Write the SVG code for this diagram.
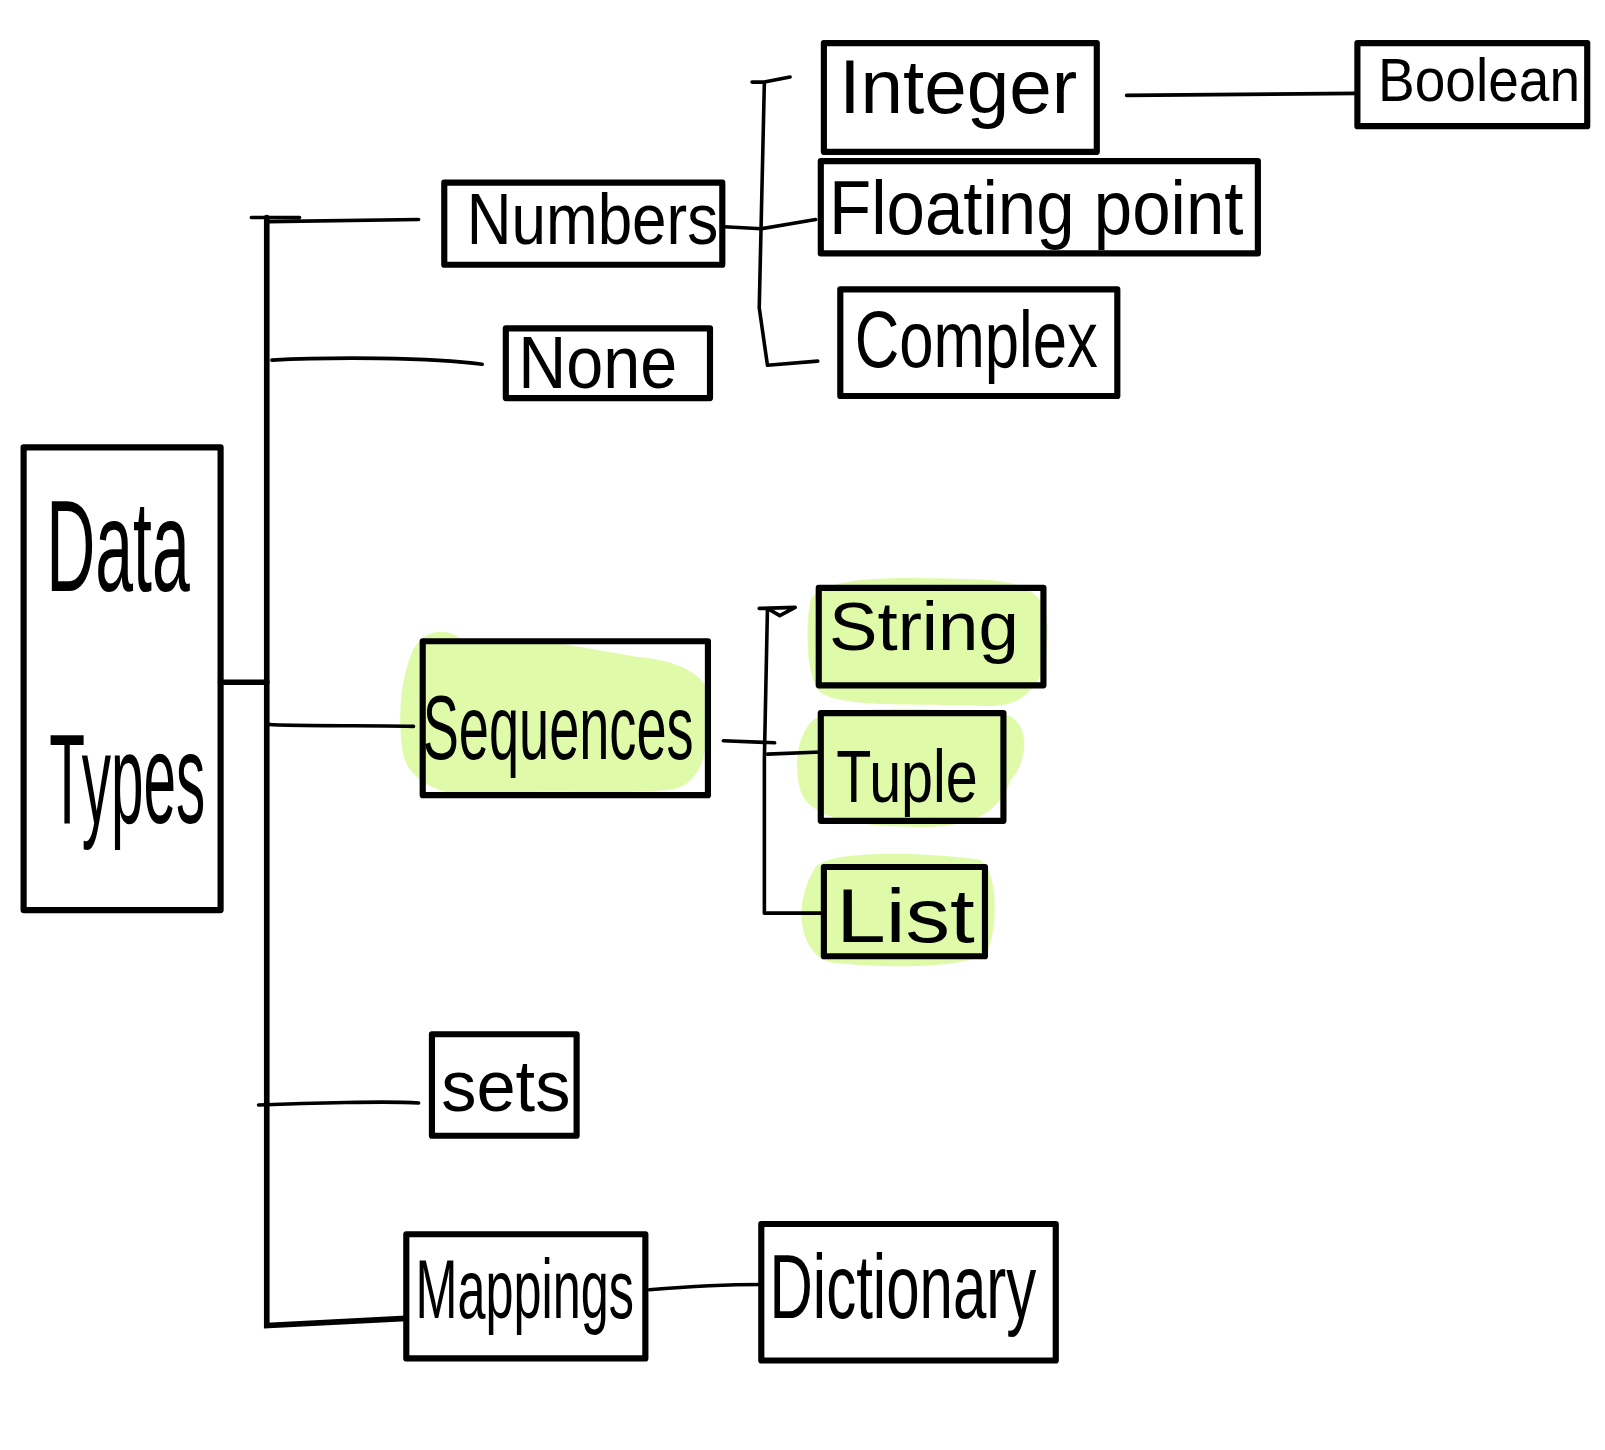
<svg xmlns="http://www.w3.org/2000/svg" width="1605" height="1450" viewBox="0 0 1605 1450">
<style>
.box{fill:none;stroke:#000;stroke-width:6;stroke-linejoin:round}
.hl{fill:#dffba9;stroke:none}
.ln{fill:none;stroke:#000;stroke-width:3.5;stroke-linecap:round;stroke-linejoin:round}
.lt{fill:none;stroke:#000;stroke-width:5.5;stroke-linecap:round}
.t{font-family:"Liberation Sans","DejaVu Sans",sans-serif;fill:#000}
</style>
<rect width="1605" height="1450" fill="#fff"/>
<g transform="scale(1.026)">
<g id="highlights">
<path class="hl" d="M400,640 C410,610 440,610 455,628 C500,615 560,630 620,640 C680,645 700,670 690,700 C690,740 680,768 650,770 C600,775 520,768 470,775 C430,778 395,760 392,730 C388,700 390,665 400,640 Z"/>
<path class="hl" d="M790,585 C800,560 880,562 960,565 C1015,568 1025,590 1020,630 C1018,665 1000,690 960,688 C900,686 820,690 800,675 C785,660 785,610 790,585 Z"/>
<path class="hl" d="M795,700 C820,688 920,688 985,698 C1005,710 1000,745 985,760 C975,790 950,806 900,806 C840,806 790,800 780,770 C772,740 780,710 795,700 Z"/>
<path class="hl" d="M795,845 C810,828 900,830 955,838 C975,850 972,915 960,930 C930,945 860,943 810,938 C778,930 772,880 795,845 Z"/>
</g>
<g id="connectors">
<path class="lt" d="M260,212 L260,1292 L396,1285"/>
<path class="lt" d="M215,665 L260,665"/>
<path class="ln" d="M245,212 L292,212 M262,216 L408,214"/>
<path class="ln" d="M265,351 C320,348 420,348 470,355"/>
<path class="ln" d="M262,706 C270,708 380,707 403,708"/>
<path class="ln" d="M252,1077 C300,1075 380,1073 408,1075"/>
<path class="ln" d="M733,80 L745,80 L770,75 M745,80 L740,300 L748,356 L797,352"/>
<path class="ln" d="M706,221 L742,223 L795,214"/>
<path class="ln" d="M1098,93 L1323,91"/>
<path class="ln" d="M740,593 L775,592 L760,600 L748,593 L745,740 L745,890 L800,890"/>
<path class="ln" d="M705,722 L755,724 M748,735 L800,733"/>
<path class="ln" d="M633,1257 C670,1254 710,1252 742,1252"/>
</g>
<g id="n-datatypes">
<rect class="box" x="23" y="436" width="192" height="451"/>
<text class="t" transform="translate(45,576) scale(1,1.93)" font-size="66" textLength="140" lengthAdjust="spacingAndGlyphs">Data</text>
<text class="t" transform="translate(48,802) scale(1,2.24)" font-size="56" textLength="152" lengthAdjust="spacingAndGlyphs">Types</text>
</g>
<g id="n-numbers">
<rect class="box" x="433" y="178" width="271" height="80"/>
<text class="t" x="455" y="238" font-size="70" textLength="245" lengthAdjust="spacingAndGlyphs">Numbers</text>
</g>
<g id="n-none">
<rect class="box" x="493" y="320" width="199" height="68"/>
<text class="t" x="505" y="378" font-size="72" textLength="155" lengthAdjust="spacingAndGlyphs">None</text>
</g>
<g id="n-sequences">
<rect class="box" x="412" y="625" width="278" height="150"/>
<text class="t" transform="translate(412,740) scale(1,1.67)" font-size="53" textLength="264" lengthAdjust="spacingAndGlyphs">Sequences</text>
</g>
<g id="n-sets">
<rect class="box" x="421" y="1008" width="141" height="99"/>
<text class="t" x="430" y="1083" font-size="70" textLength="126" lengthAdjust="spacingAndGlyphs">sets</text>
</g>
<g id="n-mappings">
<rect class="box" x="396" y="1203" width="233" height="121"/>
<text class="t" transform="translate(405,1285) scale(1,1.67)" font-size="49" textLength="213" lengthAdjust="spacingAndGlyphs">Mappings</text>
</g>
<g id="n-dictionary">
<rect class="box" x="742" y="1193" width="287" height="133"/>
<text class="t" transform="translate(750,1285) scale(1,1.5)" font-size="58.5" textLength="260" lengthAdjust="spacingAndGlyphs">Dictionary</text>
</g>
<g id="n-integer">
<rect class="box" x="803" y="42" width="266" height="106"/>
<text class="t" x="818" y="110" font-size="74" textLength="232" lengthAdjust="spacingAndGlyphs">Integer</text>
</g>
<g id="n-floating">
<rect class="box" x="800" y="157" width="426" height="90"/>
<text class="t" x="808" y="228" font-size="74" textLength="404" lengthAdjust="spacingAndGlyphs">Floating point</text>
</g>
<g id="n-complex">
<rect class="box" x="819" y="282" width="270" height="104"/>
<text class="t" x="833" y="358" font-size="78" textLength="237" lengthAdjust="spacingAndGlyphs">Complex</text>
</g>
<g id="n-boolean">
<rect class="box" x="1323" y="42" width="224" height="81"/>
<text class="t" x="1343" y="98" font-size="60" textLength="197" lengthAdjust="spacingAndGlyphs">Boolean</text>
</g>
<g id="n-string">
<rect class="box" x="798" y="573" width="219" height="95"/>
<text class="t" x="808" y="634" font-size="66" textLength="185" lengthAdjust="spacingAndGlyphs">String</text>
</g>
<g id="n-tuple">
<rect class="box" x="800" y="695" width="178" height="105"/>
<text class="t" x="815" y="782" font-size="72" textLength="138" lengthAdjust="spacingAndGlyphs">Tuple</text>
</g>
<g id="n-list">
<rect class="box" x="803" y="845" width="157" height="87"/>
<text class="t" x="815" y="918" font-size="74" textLength="135" lengthAdjust="spacingAndGlyphs">List</text>
</g>
</g>
</svg>
